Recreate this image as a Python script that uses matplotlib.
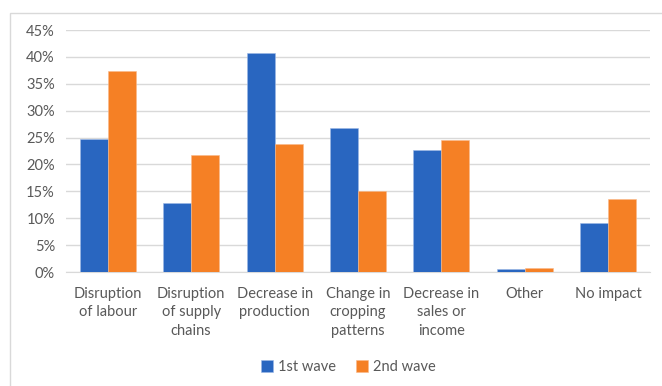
import matplotlib.pyplot as plt
from matplotlib.patches import Rectangle
from matplotlib.ticker import FuncFormatter, MultipleLocator
import numpy as np

categories = ["Disruption\nof labour", "Disruption\nof supply\nchains", "Decrease in\nproduction",
              "Change in\ncropping\npatterns", "Decrease in\nsales or\nincome", "Other", "No impact"]
wave1 = [24.7, 12.8, 40.7, 26.8, 22.6, 0.5, 9.2]
wave2 = [37.4, 21.8, 23.8, 15.1, 24.6, 0.8, 13.5]
series_names = ["1st wave", "2nd wave"]

blue = "#2966C0"
orange = "#F58025"
text_col = "#595959"
grid_col = "#D9D9D9"

plt.rcParams['font.family'] = ['Lato', 'DejaVu Sans']

W, H = 662, 386
fig = plt.figure(figsize=(W / 100, H / 100), dpi=100)
ax = fig.add_axes([66 / W, (H - 272) / H, (650 - 66) / W, (272 - 30) / H])

# outer chart frame
fig.patches.append(Rectangle((10 / W, -0.1), 2.0, (H - 13) / H + 0.1,
                             transform=fig.transFigure, fill=False,
                             edgecolor="#D9D9D9", linewidth=1))

x = np.arange(len(categories))
w = 0.336
ax.bar(x - w / 2, wave1, w, color=blue, edgecolor="#9DB8E6", linewidth=0.4,
       label=series_names[0], zorder=3)
ax.bar(x + w / 2, wave2, w, color=orange, edgecolor="#F9B98A", linewidth=0.4,
       label=series_names[1], zorder=3)

ax.set_xlim(-0.5, len(categories) - 0.5)
ax.set_ylim(0, 45)
ax.yaxis.set_major_locator(MultipleLocator(5))
ax.yaxis.set_major_formatter(FuncFormatter(lambda v, p: f"{v:.0f}%"))
ax.grid(axis="y", color=grid_col, linewidth=1, zorder=0)

ax.set_xticks(x)
ax.set_xticklabels(categories, linespacing=1.38, va="top")
ax.tick_params(axis="both", length=0, labelsize=10.5, colors=text_col)
ax.tick_params(axis="y", pad=8)
ax.tick_params(axis="x", pad=11)

for s in ["top", "right", "left"]:
    ax.spines[s].set_visible(False)
ax.spines["bottom"].set_color(grid_col)

fig.legend(loc="center", bbox_to_anchor=(348.5 / W, 19 / H), ncol=2, frameon=False,
           fontsize=10.5, labelcolor=text_col, handlelength=0.82, handleheight=0.82,
           handletextpad=0.34, columnspacing=1.37)

fig.savefig("out.png", dpi=100)
